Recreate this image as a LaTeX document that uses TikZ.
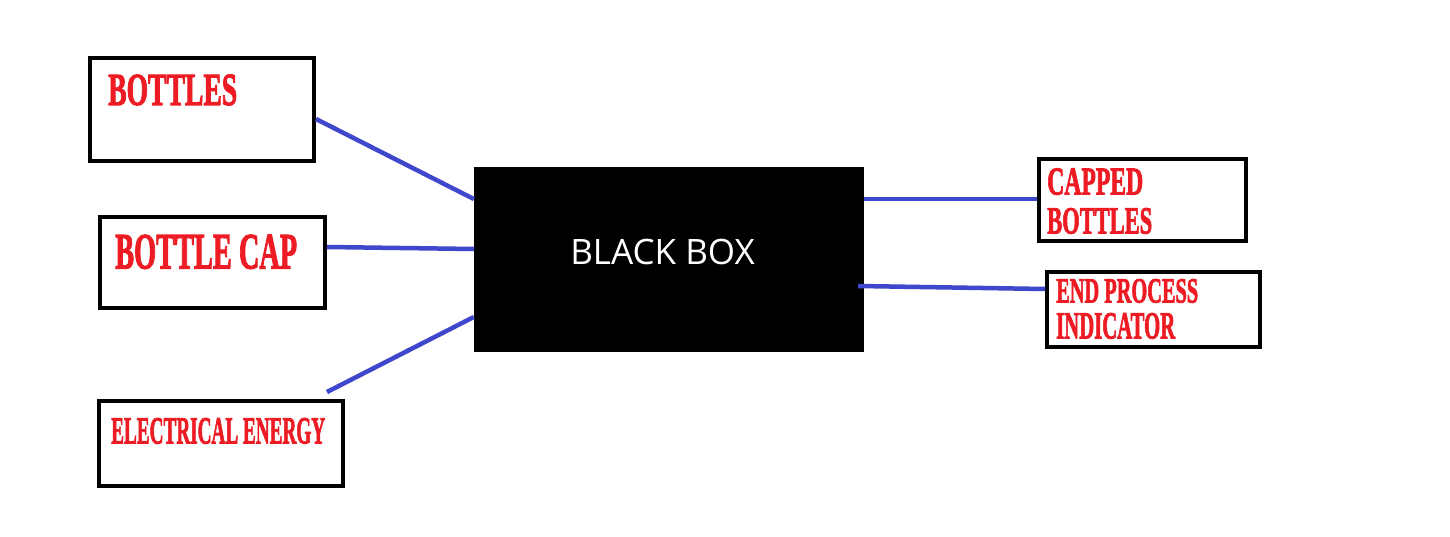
\documentclass[tikz,border=0pt]{standalone}
\usepackage{fontspec}
\usepackage{graphicx}
\setmainfont{Liberation Serif}
\newfontfamily\heavyfont{Liberation Serif}[BoldFeatures={FakeBold=2.4}]
\newfontfamily\bbfont{Open Sans}
\definecolor{lineblue}{HTML}{3F48CC}
\definecolor{labelred}{HTML}{ED1C24}
\newcommand\fitw[3]{\resizebox{#1pt}{\height}{\fontsize{#2}{#2}\selectfont #3}}
\tikzset{
  box/.style={draw=black, line width=4pt, fill=white, inner sep=0pt},
  lbl/.style={anchor=base west, inner sep=0pt, text=labelred, font=\heavyfont\bfseries},
  conn/.style={draw=lineblue, line width=4.5pt}
}
\begin{document}
\begin{tikzpicture}[x=1pt, y=-1pt]
\useasboundingbox[fill=white] (0,0) rectangle (1450,537);
% boxes
\node[box, minimum width=224pt, minimum height=103pt] (bottles) at (202,109.5) {};
\node[box, minimum width=225pt, minimum height=91pt] (cap) at (212.5,262.5) {};
\node[box, minimum width=244pt, minimum height=85pt] (elec) at (221,443.5) {};
\node[fill=black, draw=none, inner sep=0pt, minimum width=390pt, minimum height=185pt] (bb) at (669,259.5) {};
\node[box, minimum width=207pt, minimum height=82pt] (capped) at (1142.5,200) {};
\node[box, minimum width=213pt, minimum height=75pt] (endp) at (1153.5,309.5) {};
% labels
\node[lbl] (t1) at (108,105) {\fitw{129}{46}{BOTTLES}};
\node[lbl] (t2) at (115,268.5) {\fitw{182}{51}{BOTTLE CAP}};
\node[lbl] (t3) at (111,443.5) {\fitw{214}{38.5}{ELECTRICAL ENERGY}};
\node[lbl] (t4a) at (1047,194.5) {\fitw{96}{39.5}{CAPPED}};
\node[lbl] (t4b) at (1047,233.5) {\fitw{105}{38.5}{BOTTLES}};
\node[lbl] (t5a) at (1056,302.5) {\fitw{142}{35.5}{END PROCESS}};
\node[lbl] (t5b) at (1056,338.5) {\fitw{119}{38.5}{INDICATOR}};
\node[anchor=base, inner sep=0pt, text=white, font=\bbfont\fontsize{35}{35}\selectfont] (tbb) at (662.5,265) {BLACK BOX};
% connectors
\draw[conn] ([yshift=-9.5pt]bottles.east) -- ([yshift=60.5pt]bb.west);
\draw[conn] ([yshift=15.5pt]cap.east) -- ([yshift=10.5pt]bb.west);
\draw[conn] ([xshift=106pt,yshift=7pt]elec.north) -- ([yshift=-57.5pt]bb.west);
\draw[conn] ([yshift=60.5pt]bb.east) -- ([yshift=1pt]capped.west);
\draw[conn] ([xshift=-6pt,yshift=-26.5pt]bb.east) -- ([yshift=20.5pt]endp.west);
\end{tikzpicture}
\end{document}
